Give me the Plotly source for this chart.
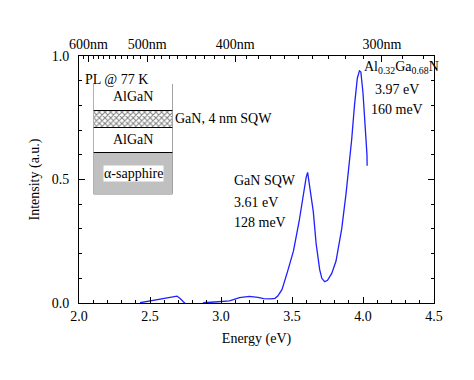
import numpy as np
import plotly.graph_objects as go

# ---- data ----
energy = [2.43, 2.46, 2.50, 2.54, 2.57, 2.61, 2.65, 2.69, 2.71, 2.74, 2.78, 2.84, 2.88,
          2.93, 2.99, 3.06, 3.13, 3.20, 3.26, 3.30, 3.35, 3.38, 3.40, 3.43, 3.47, 3.51,
          3.55, 3.58, 3.60, 3.61, 3.625, 3.65, 3.67, 3.695, 3.71, 3.73, 3.75, 3.78,
          3.81, 3.85, 3.88, 3.92, 3.94, 3.96, 3.975, 3.985, 4.00, 4.017, 4.028, 4.029]
intensity = [0.001, 0.004, 0.008, 0.013, 0.016, 0.021, 0.026, 0.028, 0.019, 0.003, -0.02, -0.015, 0.001,
             0.003, 0.005, 0.009, 0.022, 0.027, 0.023, 0.018, 0.017, 0.019, 0.028, 0.055, 0.13, 0.21,
             0.33, 0.45, 0.51, 0.529, 0.47, 0.37, 0.24, 0.135, 0.10, 0.086, 0.092, 0.12,
             0.17, 0.30, 0.44, 0.66, 0.80, 0.91, 0.94, 0.935, 0.85, 0.71, 0.60, 0.556]

wl_major = [600, 500, 400, 300]
wl_minor = list(range(280, 621, 10))

layer_names = ["α-sapphire", "AlGaN", "GaN, 4 nm SQW", "AlGaN"]
layer_thick = [42, 25, 17, 26]

FONT = "Liberation Serif, Times New Roman, DejaVu Serif, serif"
BLUE = "#1f1fff"

fig = go.Figure()
fig.add_trace(go.Scatter(x=energy, y=intensity, mode="lines",
                         line=dict(color=BLUE, width=1.3),
                         showlegend=False, hoverinfo="skip"))
# dummy traces to activate top axes
fig.add_trace(go.Scatter(x=[2, 4.5], y=[None, None], xaxis="x2", yaxis="y",
                         showlegend=False, hoverinfo="skip"))
fig.add_trace(go.Scatter(x=[2, 4.5], y=[None, None], xaxis="x3", yaxis="y",
                         showlegend=False, hoverinfo="skip"))

# inset layer stack
fills = ["#c0c0c0", "white", "white", "white"]
patterns = ["", "", "x", ""]
for name, t, fc, pat in zip(layer_names, layer_thick, fills, patterns):
    fig.add_trace(go.Bar(x=[0], y=[t], width=1, xaxis="x4", yaxis="y4",
                         marker=dict(color=fc, line=dict(color="black", width=1),
                                     pattern=dict(shape=pat, fgcolor="black", bgcolor="white",
                                                  size=4, solidity=0.45)),
                         showlegend=False, hoverinfo="skip"))

tick_font = dict(family=FONT, size=14, color="black")

fig.update_layout(
    width=474, height=380,
    margin=dict(l=71, r=48, t=48, b=85),
    paper_bgcolor="white", plot_bgcolor="white",
    font=dict(family=FONT, size=14, color="black"),
    barmode="stack",
    xaxis=dict(range=[2.0, 4.5], tickvals=[2.0, 2.5, 3.0, 3.5, 4.0, 4.5],
               ticktext=["2.0", "2.5", "3.0", "3.5", "4.0", "4.5"],
               ticks="inside", ticklen=6, tickcolor="black",
               minor=dict(dtick=0.1, ticks="inside", ticklen=3, tickcolor="black"),
               showline=True, linecolor="black", linewidth=1, mirror=True,
               showgrid=False, zeroline=False, tickfont=tick_font, automargin=False,
               title=dict(text="Energy (eV)", font=tick_font, standoff=10)),
    yaxis=dict(range=[0, 1.0], tickvals=[0, 0.5, 1.0], ticktext=["0.0", "0.5", "1.0"],
               ticks="inside", ticklen=6, tickcolor="black",
               minor=dict(dtick=0.1, ticks="inside", ticklen=3, tickcolor="black"),
               showline=True, linecolor="black", linewidth=1, mirror="ticks",
               showgrid=False, zeroline=False, tickfont=tick_font, ticklabelstandoff=6,
               automargin=False,
               title=dict(text="Intensity (a.u.)", font=tick_font, standoff=8)),
    xaxis2=dict(overlaying="x", side="top", anchor="y", range=[2.0, 4.5],
                tickvals=[1240.0 / w for w in wl_major],
                ticktext=[f"{w}nm" for w in wl_major],
                ticks="inside", ticklen=6, tickcolor="black", automargin=False,
                ticklabelstandoff=3,
                showgrid=False, zeroline=False, showline=False, tickfont=tick_font),
    xaxis3=dict(overlaying="x", side="top", anchor="y", range=[2.0, 4.5],
                tickvals=[1240.0 / w for w in wl_minor], automargin=False,
                ticks="inside", ticklen=3, tickcolor="black", showticklabels=False,
                showgrid=False, zeroline=False, showline=False),
    xaxis4=dict(domain=[0.0414, 0.263], anchor="y4", range=[-0.5, 0.5], visible=False),
    yaxis4=dict(domain=[0.440, 0.887], anchor="x4", range=[0, sum(layer_thick)], visible=False),
)

# inset labels
cum = np.cumsum([0] + layer_thick)
centers = [(cum[i] + cum[i + 1]) / 2 for i in range(len(layer_thick))]
for i, name in enumerate(layer_names):
    if i == 2:
        fig.add_annotation(x=0.5, y=centers[i], xref="x4", yref="y4", text=name,
                           showarrow=False, xanchor="left", xshift=1, font=tick_font)
    elif i == 0:
        fig.add_annotation(x=0, y=centers[i], xref="x4", yref="y4", text=name,
                           showarrow=False, bgcolor="white", borderpad=0, font=tick_font)
    else:
        fig.add_annotation(x=0, y=centers[i], xref="x4", yref="y4", text=name,
                           showarrow=False, font=tick_font)

fig.add_annotation(x=0.012, y=0.943, xref="paper", yref="paper", text="PL @ 77 K",
                   showarrow=False, xanchor="left", font=tick_font)

for txt, yy in [("GaN SQW", 0.494), ("3.61 eV", 0.405), ("128 meV", 0.324)]:
    fig.add_annotation(x=3.08, y=yy, text=txt, showarrow=False, xanchor="left", font=tick_font)

fig.add_annotation(x=3.99, y=0.955,
                   text="Al<sub>0.32</sub>Ga<sub>0.68</sub>N",
                   showarrow=False, xanchor="left", font=tick_font)
for txt, yy in [("3.97 eV", 0.866), ("160 meV", 0.785)]:
    fig.add_annotation(x=4.237, y=yy, text=txt, showarrow=False, xanchor="center", font=tick_font)

fig.write_html("out.html")
